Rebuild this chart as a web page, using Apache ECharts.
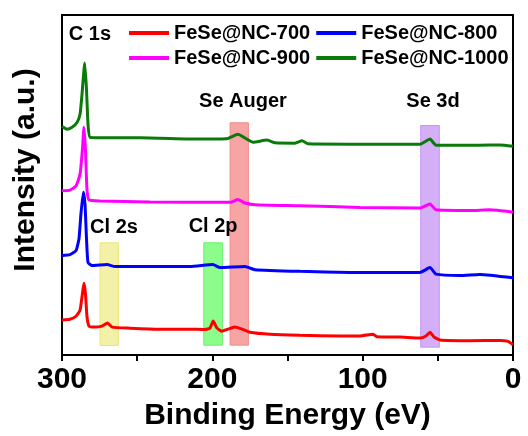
<!DOCTYPE html>
<html>
<head>
<meta charset="utf-8">
<script src="https://cdn.jsdelivr.net/npm/echarts@6/dist/echarts.min.js"></script>
<style>
  html, body { margin: 0; padding: 0; background: #fff; }
  #chart { width: 528px; height: 436px; }
</style>
</head>
<body>
<div id="chart"></div>
<script>
// XPS survey spectra of FeSe@NC samples (offset, arbitrary units)
const seriesNames = ['FeSe@NC-700', 'FeSe@NC-800', 'FeSe@NC-900', 'FeSe@NC-1000'];
const seriesColors = ['#ff0000', '#0000ff', '#ff00ff', '#0a7a0a'];

const energy700 = [300, 294.7, 290.7, 288, 286.4, 285.4, 284.4, 283.4, 282, 278, 273.4, 269.7, 266.7, 254.8, 234.8, 214.9, 204.9, 201.6, 199.4, 196.9, 193.6, 189.6, 185, 180.3, 175, 161.6, 141.7, 115.1, 101.8, 93.1, 90.5, 75.2, 61.9, 57.9, 55.2, 52.6, 48.6, 28.6, 8.6, 3.3, 0];
const intensity700 = [10.3, 10.5, 11.4, 13.2, 18.1, 21.1, 18.1, 11.4, 8.5, 8.2, 8.5, 9.4, 8.2, 7.9, 7.6, 7.6, 7.5, 7.9, 10.0, 7.9, 7.0, 7.6, 8.2, 7.6, 6.7, 6.1, 5.8, 5.6, 5.6, 6.1, 5.4, 5.3, 5.0, 5.6, 6.7, 5.3, 4.4, 4.2, 4.3, 4.0, 3.0];

const energy800 = [300, 294.7, 290.7, 288.7, 287.4, 285.8, 284.7, 283.7, 282.7, 280, 270, 264.7, 241.5, 214.9, 199.6, 194.9, 178.3, 171.6, 141.7, 108.4, 61.9, 55.2, 51.2, 35.3, 22, 0];
const intensity800 = [29.3, 29.5, 30.7, 34.2, 41.5, 47.9, 44.4, 34.2, 27.2, 26.3, 26.6, 26.0, 26.0, 26.0, 26.6, 25.7, 26.0, 25.1, 24.6, 24.3, 24.3, 25.7, 23.8, 23.4, 23.7, 22.7];

const energy900 = [300, 294.7, 290.7, 288, 286.4, 285.4, 284.4, 283.4, 282, 274.7, 241.5, 194.9, 187, 183, 178.3, 171.6, 141.7, 101.8, 61.9, 55.2, 51.2, 28.6, 15.3, 0];
const intensity900 = [48.3, 48.5, 49.7, 53.2, 60.5, 67.0, 60.5, 48.8, 45.6, 45.3, 45.0, 44.9, 45.0, 45.7, 44.7, 44.2, 43.9, 43.4, 43.2, 44.4, 42.7, 42.5, 42.7, 42.0];

const energy1000 = [300, 296.7, 293.3, 290, 288, 286.7, 284.9, 283.7, 282.7, 281.4, 274.7, 248.1, 208.2, 189.6, 183, 177, 173, 163.6, 158.3, 145, 140.3, 136.4, 108.4, 61.9, 55.2, 51.2, 22, 8.6, 0];
const intensity1000 = [67.2, 66.4, 67.0, 68.4, 70.8, 76.6, 85.9, 78.1, 67.8, 64.0, 63.9, 63.9, 63.5, 63.7, 64.9, 63.5, 62.6, 63.2, 62.4, 62.3, 63.0, 62.1, 62.0, 62.0, 63.5, 61.7, 61.7, 61.8, 61.4];

// Highlighted regions: [high eV, low eV, bottom, top]
const bandNames = ['Cl 2s', 'Cl 2p', 'Se Auger', 'Se 3d'];
const bandRanges = [[274.7, 262.5, 2.8, 33.0], [205.7, 193.3, 2.9, 33.0], [188.2, 176, 2.9, 68.3], [61.4, 49, 2.3, 67.5]];
const bandFill = ['#f3f0a8', '#8cfc8c', '#f7a4a4', '#d4aef6'];
const bandEdge = ['#ebe47a', '#6cf06c', '#f28c8c', '#c597f0'];

// Peak labels: [energy, intensity]
const labelNames = ['C 1s', 'Cl 2s', 'Cl 2p', 'Se Auger', 'Se 3d'];
const labelPos = [[281.4, 94.2], [265.4, 37.5], [199.5, 37.8], [179.6, 74.7], [53.2, 74.7]];

const xTicks = [300, 200, 100, 0];

const FONT = '"Liberation Sans", Arial, sans-serif';

const energies = [energy700, energy800, energy900, energy1000];
const intensities = [intensity700, intensity800, intensity900, intensity1000];

const chart = echarts.init(document.getElementById('chart'), null, { renderer: 'canvas' });

const series = seriesNames.map((name, i) => ({
  name,
  type: 'line',
  data: energies[i].map((e, k) => [e, intensities[i][k]]),
  showSymbol: false,
  symbol: 'none',
  smooth: 0.15,
  lineStyle: { color: seriesColors[i], width: 3 },
  itemStyle: { color: seriesColors[i] },
  z: 3,
  animation: false
}));

// Shaded regions drawn beneath the spectra
series.unshift({
  type: 'line',
  data: [],
  z: 1,
  silent: true,
  markArea: {
    silent: true,
    data: bandRanges.map((r, i) => [
      { coord: [r[0], r[2]], itemStyle: { color: bandFill[i], borderColor: bandEdge[i], borderWidth: 1, opacity: 1 } },
      { coord: [r[1], r[3]] }
    ])
  }
});

// Peak annotations
series.push({
  type: 'scatter',
  data: labelPos.map((p, i) => ({ value: p, name: labelNames[i] })),
  symbolSize: 0,
  silent: true,
  z: 4,
  itemStyle: { opacity: 1 },
  label: {
    show: true,
    position: 'inside',
    formatter: p => p.name,
    fontFamily: FONT,
    fontWeight: 'bold',
    fontSize: 20,
    color: '#000',
    opacity: 1
  },
  animation: false
});

const legendCommon = {
  icon: 'rect',
  itemWidth: 40,
  itemHeight: 4,
  itemGap: 6,
  orient: 'horizontal',
  padding: 0,
  textStyle: { fontFamily: FONT, fontWeight: 'bold', fontSize: 20, color: '#000', padding: [0, 0, 0, 0] }
};

chart.setOption({
  animation: false,
  backgroundColor: '#fff',
  grid: { left: 62, right: 15, top: 15, bottom: 79, show: true, borderColor: '#000', borderWidth: 2, backgroundColor: 'transparent' },
  legend: [
    Object.assign({}, legendCommon, { data: [seriesNames[0], seriesNames[1]], left: 129, top: 23 }),
    Object.assign({}, legendCommon, { data: [seriesNames[2], seriesNames[3]], left: 129, top: 48 })
  ],
  xAxis: {
    type: 'value',
    min: 0,
    max: 300,
    interval: 50,
    inverse: true,
    name: 'Binding Energy (eV)',
    nameLocation: 'middle',
    nameGap: 46,
    nameTextStyle: { fontFamily: FONT, fontWeight: 'bold', fontSize: 30, color: '#000' },
    axisLine: { show: true, lineStyle: { color: '#000', width: 2 } },
    axisTick: { show: true, inside: false, length: 6, lineStyle: { color: '#000', width: 2 } },
    axisLabel: {
      margin: 10,
      fontFamily: FONT,
      fontWeight: 'bold',
      fontSize: 30,
      color: '#000',
      formatter: v => (xTicks.indexOf(v) >= 0 ? String(v) : '')
    },
    splitLine: { show: false }
  },
  yAxis: {
    type: 'value',
    min: 0,
    max: 100,
    name: 'Intensity (a.u.)',
    nameLocation: 'middle',
    nameGap: 21,
    nameTextStyle: { fontFamily: FONT, fontWeight: 'bold', fontSize: 30, color: '#000', padding: [0, 0, 0, 30] },
    axisLine: { show: true, lineStyle: { color: '#000', width: 2 } },
    axisTick: { show: false },
    axisLabel: { show: false },
    splitLine: { show: false }
  },
  series
});
</script>
</body>
</html>
